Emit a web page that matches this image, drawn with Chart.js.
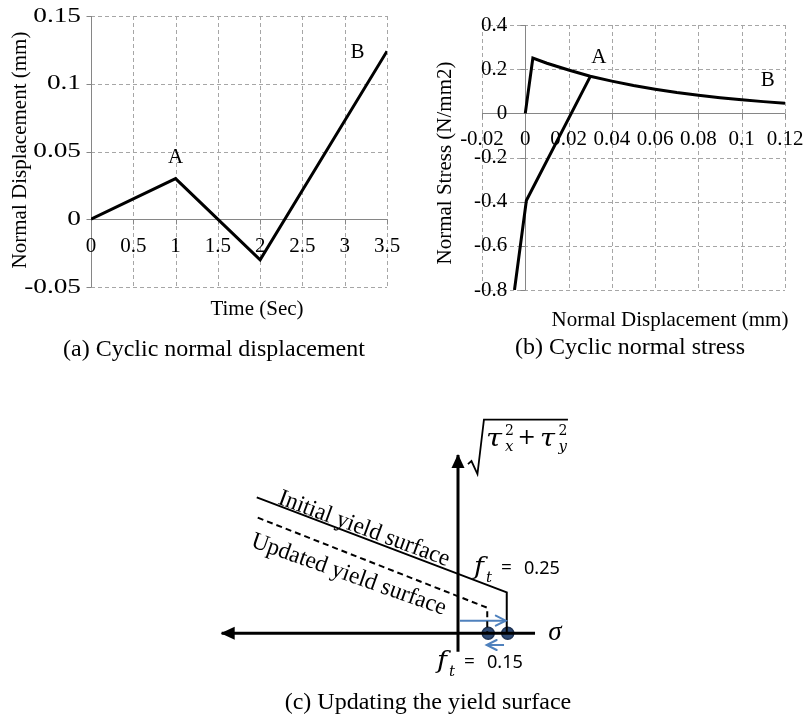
<!DOCTYPE html>
<html><head><meta charset="utf-8">
<script src="https://cdn.jsdelivr.net/npm/chart.js@4/dist/chart.umd.min.js"></script>
<style>
html,body{margin:0;padding:0;background:#fff;}
#wrap{position:relative;width:806px;height:719px;overflow:hidden;background:#fff;}
canvas{position:absolute;left:0;top:0;}
</style></head><body>
<div id="wrap">
<canvas id="ca" width="806" height="719"></canvas>
<canvas id="cb" width="806" height="719"></canvas>
<canvas id="cc" width="806" height="719"></canvas>
</div>
<script>
// ---------- Panel (a): cyclic normal displacement ----------
const timeSec = [0, 1, 2, 3.5];
const normalDisp = [0, 0.03, -0.03, 0.124];
const aXTicks = [0, 0.5, 1, 1.5, 2, 2.5, 3, 3.5];
const aXTickLabels = ['0', '0.5', '1', '1.5', '2', '2.5', '3', '3.5'];
const aYTicks = [-0.05, 0, 0.05, 0.1, 0.15];
const aYTickLabels = ['-0.05', '0', '0.05', '0.1', '0.15'];
const aPointNames = ['A', 'B'];
const aPointX = [1, 3.15];
const aPointY = [0.0455, 0.123];

// ---------- Panel (b): cyclic normal stress ----------
const loadDisp = [0, 0.0035, 0.01, 0.02, 0.03, 0.04, 0.05, 0.06, 0.07, 0.08, 0.09, 0.10, 0.11, 0.12];
const loadStress = [0, 0.25, 0.227, 0.196, 0.168, 0.146, 0.126, 0.109, 0.094, 0.082, 0.071, 0.061, 0.053, 0.046];
const unloadDisp = [0.03, 0.0005, -0.005];
const unloadStress = [0.166, -0.395, -0.8];
const bXTicks = [-0.02, 0, 0.02, 0.04, 0.06, 0.08, 0.1, 0.12];
const bXTickLabels = ['-0.02', '0', '0.02', '0.04', '0.06', '0.08', '0.1', '0.12'];
const bYTicks = [-0.8, -0.6, -0.4, -0.2, 0, 0.2, 0.4];
const bYTickLabels = ['-0.8', '-0.6', '-0.4', '-0.2', '0', '0.2', '0.4'];
const bPointNames = ['A', 'B'];
const bPointX = [0.034, 0.112];
const bPointY = [0.254, 0.151];

// ---------- Panel (c): updating the yield surface (sigma, tau units) ----------
const initialSigma = [-1.032, 0.25, 0.25];
const initialTau = [0.697, 0.21, 0];
const updatedSigma = [-1.027, 0.15, 0.15];
const updatedTau = [0.593, 0.131, 0];
const sigmaAxisS = [0.395, -1.212];
const sigmaAxisT = [0, 0];
const tauAxisS = [0, 0];
const tauAxisT = [-0.094, 0.914];
const shiftUpS = [0.01, 0.245];
const shiftUpT = [0.065, 0.065];
const shiftDownS = [0.236, 0.147];
const shiftDownT = [-0.06, -0.06];
const ftSigma = [0.155, 0.255];
const ftTau = [0, 0];
const ftLabels = ['0.15', '0.25'];

// ---------- helpers ----------
const SERIF = "'Liberation Serif','Times New Roman',serif";
const MATH = "'DejaVu Serif','Liberation Serif',serif";
const SANS = "'Noto Sans','Open Sans',sans-serif";
const pts = (xs, ys) => xs.map((v, i) => ({x: v, y: ys[i]}));

function txt(ctx, s, x, y, o) {
  o = o || {};
  ctx.save();
  ctx.font = o.font || ('21px ' + SERIF);
  ctx.fillStyle = o.color || '#000';
  ctx.textAlign = o.align || 'center';
  ctx.textBaseline = o.baseline || 'middle';
  ctx.translate(x, y);
  if (o.rot) ctx.rotate(o.rot);
  let sx = o.sx || 1;
  if (o.fitW) sx = o.fitW / ctx.measureText(s).width;
  if (sx !== 1) ctx.scale(sx, 1);
  ctx.fillText(s, 0, 0);
  ctx.restore();
}

function drawGrid(chart, xt, yt) {
  const {ctx, chartArea: a, scales: {x, y}} = chart;
  const r = v => Math.round(v) + 0.5;
  ctx.save();
  ctx.lineWidth = 1;
  ctx.strokeStyle = '#a6a6a6';
  ctx.setLineDash([4, 3]);
  ctx.beginPath();
  xt.forEach(v => { if (v === 0) return; const p = r(x.getPixelForValue(v)); ctx.moveTo(p, a.top); ctx.lineTo(p, a.bottom); });
  yt.forEach(v => { if (v === 0) return; const p = r(y.getPixelForValue(v)); ctx.moveTo(a.left, p); ctx.lineTo(a.right, p); });
  ctx.stroke();
  ctx.setLineDash([]);
  ctx.strokeStyle = '#868686';
  const x0 = r(x.getPixelForValue(0)), y0 = r(y.getPixelForValue(0));
  ctx.beginPath();
  ctx.moveTo(x0, a.top); ctx.lineTo(x0, a.bottom);
  ctx.moveTo(a.left, y0); ctx.lineTo(a.right, y0);
  yt.forEach(v => { const p = r(y.getPixelForValue(v)); ctx.moveTo(x0 - 5, p); ctx.lineTo(x0, p); });
  xt.forEach(v => { const p = r(x.getPixelForValue(v)); ctx.moveTo(p, y0); ctx.lineTo(p, y0 + 5); });
  ctx.stroke();
  ctx.restore();
}

function baseOptions(pad, xmin, xmax, ymin, ymax) {
  return {
    responsive: false, animation: false, devicePixelRatio: 1,
    layout: {padding: pad},
    plugins: {legend: {display: false}, tooltip: {enabled: false}},
    scales: {
      x: {type: 'linear', min: xmin, max: xmax, display: false},
      y: {type: 'linear', min: ymin, max: ymax, display: false}
    }
  };
}

// ---------- Chart (a) ----------
new Chart(document.getElementById('ca'), {
  type: 'scatter',
  data: {datasets: [{
    data: pts(timeSec, normalDisp), showLine: true, borderColor: '#000', borderWidth: 3,
    pointRadius: 0, tension: 0, borderJoinStyle: 'miter'
  }]},
  options: baseOptions({left: 91, top: 16, right: 419, bottom: 432}, 0, 3.5, -0.05, 0.15),
  plugins: [{
    id: 'decorA',
    beforeDatasetsDraw(chart) { drawGrid(chart, aXTicks, aYTicks); },
    afterDraw(chart) {
      const {ctx, chartArea: a, scales: {x, y}} = chart;
      const x0 = x.getPixelForValue(0), y0 = y.getPixelForValue(0);
      aYTicks.forEach((v, i) => txt(ctx, aYTickLabels[i], x0 - 10, y.getPixelForValue(v), {align: 'right', sx: 1.3}));
      aXTicks.forEach((v, i) => txt(ctx, aXTickLabels[i], x.getPixelForValue(v), y0 + 27));
      aPointNames.forEach((n, i) => txt(ctx, n, x.getPixelForValue(aPointX[i]), y.getPixelForValue(aPointY[i])));
      txt(ctx, 'Time (Sec)', 257, a.bottom + 22);
      txt(ctx, 'Normal Displacement (mm)', 20, 150, {rot: -Math.PI / 2});
      txt(ctx, '(a) Cyclic normal displacement', 214, 350, {font: '24px ' + SERIF});
    }
  }]
});

// ---------- Chart (b) ----------
new Chart(document.getElementById('cb'), {
  type: 'scatter',
  data: {datasets: [
    {data: pts(loadDisp, loadStress), showLine: true, borderColor: '#000', borderWidth: 3, pointRadius: 0, tension: 0},
    {data: pts(unloadDisp, unloadStress), showLine: true, borderColor: '#000', borderWidth: 3, pointRadius: 0, tension: 0}
  ]},
  options: baseOptions({left: 482, top: 25, right: 21, bottom: 429}, -0.02, 0.12, -0.8, 0.4),
  plugins: [{
    id: 'decorB',
    beforeDatasetsDraw(chart) { drawGrid(chart, bXTicks, bYTicks); },
    afterDraw(chart) {
      const {ctx, chartArea: a, scales: {x, y}} = chart;
      const x0 = x.getPixelForValue(0), y0 = y.getPixelForValue(0);
      bYTicks.forEach((v, i) => txt(ctx, bYTickLabels[i], x0 - 18, y.getPixelForValue(v), {align: 'right'}));
      bXTicks.forEach((v, i) => txt(ctx, bXTickLabels[i], x.getPixelForValue(v), y0 + 26));
      bPointNames.forEach((n, i) => txt(ctx, n, x.getPixelForValue(bPointX[i]), y.getPixelForValue(bPointY[i])));
      txt(ctx, 'Normal Displacement (mm)', 670, a.bottom + 30);
      txt(ctx, 'Normal Stress (N/mm2)', 445, 163, {rot: -Math.PI / 2});
      txt(ctx, '(b) Cyclic normal stress', 630, 348, {font: '24px ' + SERIF});
    }
  }]
});

// ---------- Chart (c) ----------
function drawFt(ctx, x, y, val) {
  txt(ctx, 'f', x, y, {font: 'italic 25px ' + MATH, align: 'left', baseline: 'alphabetic', fitW: 10});
  txt(ctx, 't', x + 12, y + 8, {font: 'italic 15px ' + MATH, align: 'left', baseline: 'alphabetic'});
  txt(ctx, '=', x + 27, y, {font: '19px ' + SANS, align: 'left', baseline: 'alphabetic'});
  txt(ctx, val, x + 50, y, {font: '18px ' + SANS, align: 'left', baseline: 'alphabetic', fitW: 36});
}

new Chart(document.getElementById('cc'), {
  type: 'scatter',
  data: {datasets: [
    {data: pts(sigmaAxisS, sigmaAxisT), showLine: true, borderColor: '#000', borderWidth: 3, pointRadius: 0, arrow: 'filled'},
    {data: pts(tauAxisS, tauAxisT), showLine: true, borderColor: '#000', borderWidth: 3, pointRadius: 0, arrow: 'filled'},
    {data: pts(initialSigma, initialTau), showLine: true, borderColor: '#000', borderWidth: 2, pointRadius: 0, borderJoinStyle: 'miter'},
    {data: pts(updatedSigma, updatedTau), showLine: true, borderColor: '#000', borderWidth: 2, borderDash: [6, 4], pointRadius: 0, borderJoinStyle: 'miter'},
    {data: pts(shiftUpS, shiftUpT), showLine: true, borderColor: '#4f81bd', borderWidth: 2, pointRadius: 0, arrow: 'open'},
    {data: pts(shiftDownS, shiftDownT), showLine: true, borderColor: '#4f81bd', borderWidth: 2, pointRadius: 0, arrow: 'open'},
    {data: pts(ftSigma, ftTau), showLine: false, pointRadius: 6, backgroundColor: '#2e4a74', borderColor: '#1f3354', borderWidth: 1.5},
    {data: pts(ftSigma, ftTau), showLine: false, pointRadius: 1.8, backgroundColor: '#7d97c2', borderWidth: 0}
  ]},
  options: baseOptions({left: 185, top: 399.3, right: 231, bottom: 36.95}, -1.4, 0.6, -0.25, 1.2),
  plugins: [{
    id: 'decorC',
    afterDatasetsDraw(chart) {
      const ctx = chart.ctx;
      chart.data.datasets.forEach((ds, i) => {
        if (!ds.arrow) return;
        const el = chart.getDatasetMeta(i).data;
        const p1 = el[el.length - 2], p2 = el[el.length - 1];
        const ang = Math.atan2(p2.y - p1.y, p2.x - p1.x);
        ctx.save();
        ctx.translate(p2.x, p2.y);
        ctx.rotate(ang);
        if (ds.arrow === 'filled') {
          ctx.fillStyle = ds.borderColor;
          ctx.beginPath();
          ctx.moveTo(1, 0); ctx.lineTo(-13, -6.5); ctx.lineTo(-13, 6.5); ctx.closePath();
          ctx.fill();
        } else {
          ctx.strokeStyle = ds.borderColor; ctx.lineWidth = 2; ctx.lineCap = 'round';
          ctx.beginPath();
          ctx.moveTo(-10, -5); ctx.lineTo(0, 0); ctx.lineTo(-10, 5);
          ctx.stroke();
        }
        ctx.restore();
      });
    },
    afterDraw(chart) {
      const {ctx, scales: {x, y}} = chart;
      const P = (s, t) => [x.getPixelForValue(s), y.getPixelForValue(t)];
      // rotated surface labels
      let [ix, iy] = P(-0.928, 0.666);
      txt(ctx, 'Initial yield surface', ix, iy, {font: '24px ' + SERIF, align: 'left', baseline: 'alphabetic', rot: 20.3 * Math.PI / 180, fitW: 181});
      let [ux, uy] = P(-1.067, 0.445);
      txt(ctx, 'Updated yield surface', ux, uy, {font: '24px ' + SERIF, align: 'left', baseline: 'alphabetic', rot: 19.5 * Math.PI / 180, fitW: 205});
      // f_t labels
      let [fx1, fy1] = P(0.082, 0.302);
      drawFt(ctx, fx1, fy1, ftLabels[1]);
      let [fx2, fy2] = P(-0.108, -0.178);
      drawFt(ctx, fx2, fy2, ftLabels[0]);
      // sigma label
      let [sx, sy] = P(0.497, 0);
      txt(ctx, 'σ', sx, sy, {font: 'italic 27px ' + SERIF, align: 'center', baseline: 'middle'});
      // sqrt(tau_x^2 + tau_y^2)
      let [qx, qy] = P(0.051, 0.873);
      ctx.save();
      ctx.strokeStyle = '#000'; ctx.lineWidth = 1.8; ctx.lineJoin = 'miter';
      ctx.beginPath();
      ctx.moveTo(qx, qy + 1); ctx.lineTo(qx + 3.5, qy - 2);
      ctx.lineTo(qx + 9.5, qy + 11);
      ctx.lineTo(qx + 16, qy - 43.5);
      ctx.lineTo(qx + 100, qy - 43.5);
      ctx.stroke();
      ctx.restore();
      const L = {align: 'left', baseline: 'alphabetic'};
      txt(ctx, 'τ', qx + 18, qy - 17, Object.assign({font: 'italic 25px ' + MATH, fitW: 16}, L));
      txt(ctx, '2', qx + 37, qy - 28, Object.assign({font: '14px ' + MATH}, L));
      txt(ctx, 'x', qx + 37, qy - 12, Object.assign({font: 'italic 15px ' + MATH}, L));
      txt(ctx, '+', qx + 58.7, qy - 25, {font: '22px ' + MATH, align: 'center', baseline: 'middle'});
      txt(ctx, 'τ', qx + 72, qy - 17, Object.assign({font: 'italic 25px ' + MATH, fitW: 15}, L));
      txt(ctx, '2', qx + 90.5, qy - 28, Object.assign({font: '14px ' + MATH}, L));
      txt(ctx, 'y', qx + 90.5, qy - 12, Object.assign({font: 'italic 15px ' + MATH}, L));
      // caption
      txt(ctx, '(c) Updating the yield surface', 428, 703, {font: '24px ' + SERIF});
    }
  }]
});
</script>
</body></html>
